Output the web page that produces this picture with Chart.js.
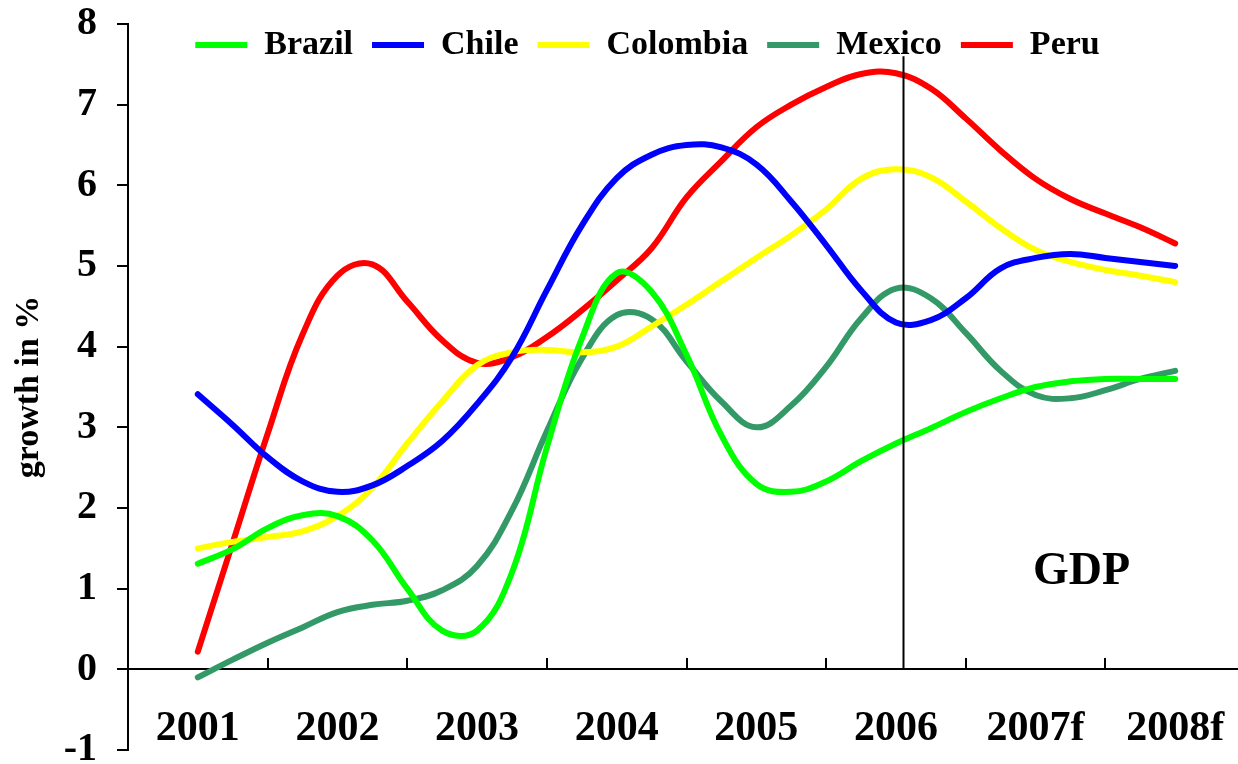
<!DOCTYPE html>
<html lang="en">
<head>
<meta charset="UTF-8">
<title>GDP growth</title>
<script src="https://cdn.jsdelivr.net/npm/chart.js@4"></script>
<style>
  html, body { margin: 0; padding: 0; background: #fff; overflow: hidden; }
  #wrap { width: 1245px; height: 764px; }
</style>
</head>
<body>
<div id="wrap"><canvas id="gdpChart" width="1245" height="764"></canvas></div>
<script>
// axis labels, one per year
const years = ['2001', '2002', '2003', '2004', '2005', '2006', '2007f', '2008f'];

// growth in %, one reading per quarter from 2001 to 2008
const brazil   = [1.31, 1.49, 1.75, 1.91, 1.90, 1.60, 1.00, 0.48, 0.48, 1.20, 2.75, 4.10, 4.91, 4.68, 3.90, 2.90, 2.30, 2.20, 2.33, 2.58, 2.80, 2.99, 3.19, 3.36, 3.50, 3.57, 3.60, 3.60, 3.60];
const chile    = [3.41, 3.03, 2.63, 2.33, 2.20, 2.28, 2.52, 2.83, 3.29, 3.87, 4.70, 5.50, 6.09, 6.38, 6.50, 6.47, 6.26, 5.80, 5.26, 4.70, 4.30, 4.33, 4.60, 4.97, 5.10, 5.15, 5.10, 5.05, 5.00];
const colombia = [1.50, 1.58, 1.64, 1.71, 1.90, 2.25, 2.80, 3.32, 3.77, 3.93, 3.96, 3.93, 4.00, 4.25, 4.52, 4.81, 5.10, 5.38, 5.70, 6.08, 6.20, 6.10, 5.80, 5.47, 5.20, 5.05, 4.95, 4.88, 4.80];
const mexico   = [-0.10, 0.12, 0.33, 0.52, 0.71, 0.80, 0.85, 0.98, 1.28, 1.97, 2.95, 3.85, 4.39, 4.34, 3.82, 3.32, 3.00, 3.27, 3.75, 4.35, 4.72, 4.60, 4.17, 3.70, 3.40, 3.36, 3.46, 3.60, 3.70];
const peru     = [0.22, 1.57, 2.92, 4.15, 4.88, 5.02, 4.56, 4.08, 3.80, 3.87, 4.12, 4.45, 4.82, 5.22, 5.85, 6.30, 6.72, 7.00, 7.22, 7.38, 7.39, 7.20, 6.83, 6.43, 6.08, 5.83, 5.65, 5.48, 5.28];

// start of the forecast period
const forecastStart = 2006.05;

const FONT = '"Liberation Serif", "Times New Roman", serif';

// each reading sits on a quarter of its year
function toPoints(values) {
  return values.map((v, i) => ({ x: 2001 + i / 4, y: v }));
}

function series(label, values, color) {
  return {
    label: label,
    data: toPoints(values),
    xAxisID: 'xq',
    borderColor: color,
    backgroundColor: color,
    borderWidth: 6,
    borderCapStyle: 'round',
    borderJoinStyle: 'round',
    pointRadius: 0,
    tension: 0.4,
    fill: false
  };
}

// legend sits over the top of the plot instead of taking its own row
const legendOverlay = {
  id: 'legendOverlay',
  beforeInit(chart) {
    const fit = chart.legend.fit;
    chart.legend.fit = function () {
      fit.call(this);
      this.height = 15;
    };
  },
  afterLayout(chart) {
    const lg = chart.legend;
    lg.left += 25;
    lg.right += 25;
    // let the legend draw below its reserved strip
    lg.bottom = lg.top + 70;
    lg.height = 70;
  }
};

// forecast divider and the "GDP" caption
const annotations = {
  id: 'annotations',
  afterDatasetsDraw(chart) {
    const ctx = chart.ctx;
    const xs = chart.scales.xq;
    const ys = chart.scales.y;
    ctx.save();
    const lx = Math.round(xs.getPixelForValue(forecastStart)) + 0.5;
    ctx.strokeStyle = '#000';
    ctx.lineWidth = 2;
    ctx.beginPath();
    ctx.moveTo(lx, ys.getPixelForValue(0));
    ctx.lineTo(lx, ys.getPixelForValue(7.6));
    ctx.stroke();

    ctx.fillStyle = '#000';
    ctx.font = 'bold 46px ' + FONT;
    ctx.textAlign = 'center';
    ctx.textBaseline = 'middle';
    ctx.fillText('GDP', xs.getPixelForValue(2007.33), ys.getPixelForValue(1.2));
    ctx.restore();
  }
};

new Chart(document.getElementById('gdpChart'), {
  type: 'line',
  data: {
    labels: years,
    datasets: [
      series('Brazil', brazil, '#00ff00'),
      series('Chile', chile, '#0000ff'),
      series('Colombia', colombia, '#ffff00'),
      series('Mexico', mexico, '#339966'),
      series('Peru', peru, '#ff0000')
    ]
  },
  options: {
    responsive: false,
    animation: false,
    devicePixelRatio: 1,
    layout: { padding: { top: 9, bottom: 14, left: 0, right: 0 } },
    plugins: {
      tooltip: { enabled: false },
      legend: {
        position: 'top',
        align: 'center',
        labels: {
          usePointStyle: true,
          pointStyle: 'line',
          pointStyleWidth: 52,
          padding: 19,
          color: '#000',
          font: { family: FONT, size: 34, weight: 'bold' }
        }
      }
    },
    scales: {
      x: {
        type: 'category',
        position: { y: 0 },
        offset: true,
        grid: {
          offset: true,
          drawOnChartArea: false,
          drawTicks: true,
          tickLength: -12,
          color: '#000',
          lineWidth: 2
        },
        border: { display: true, color: '#000', width: 2 },
        ticks: {
          color: '#000',
          padding: 51,
          maxRotation: 0,
          autoSkip: false,
          font: { family: FONT, size: 42, weight: 'bold', lineHeight: 1 }
        },
        afterFit(s) { s.paddingLeft = 0; s.paddingRight = 0; }
      },
      xq: {
        type: 'linear',
        display: false,
        min: 2000.5,
        max: 2008.5
      },
      y: {
        type: 'linear',
        position: 'left',
        min: -1,
        max: 8,
        grid: {
          drawOnChartArea: false,
          drawTicks: true,
          tickLength: 11,
          color: '#000',
          lineWidth: 2
        },
        border: { display: true, color: '#000', width: 2 },
        ticks: {
          stepSize: 1,
          color: '#000',
          padding: 20,
          font: { family: FONT, size: 40, weight: 'bold' }
        },
        title: {
          display: true,
          text: 'growth in %',
          color: '#000',
          padding: { top: 9, bottom: 4 },
          font: { family: FONT, size: 34, weight: 'bold' }
        },
        afterFit(s) { s.width = 128; s.paddingTop = 0; s.paddingBottom = 0; }
      }
    }
  },
  plugins: [legendOverlay, annotations]
});
</script>
</body>
</html>
